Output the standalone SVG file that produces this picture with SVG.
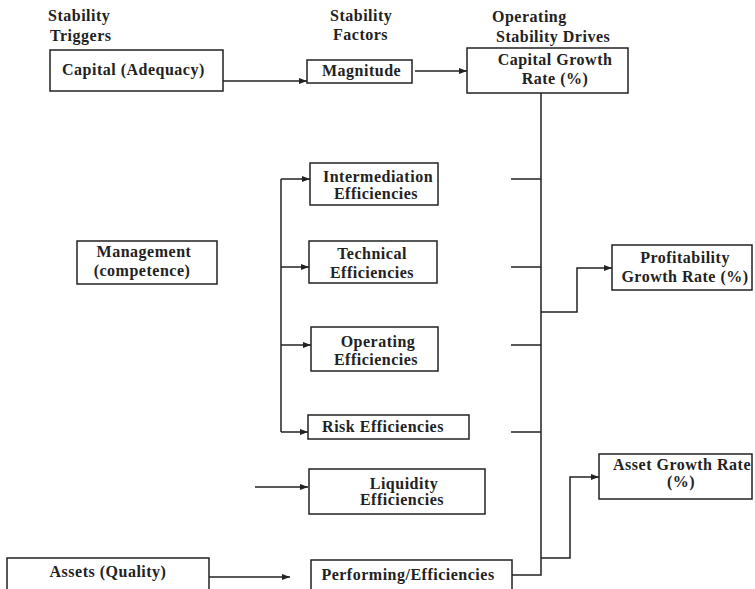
<svg xmlns="http://www.w3.org/2000/svg" width="755" height="589" viewBox="0 0 755 589">
<style>
.box{fill:#fff;stroke:#222;stroke-width:1.5}
.ln{fill:none;stroke:#222;stroke-width:1.5}
.t{font-family:"Liberation Serif","Times New Roman",serif;font-weight:bold;font-size:16px;letter-spacing:0.5px;fill:#222}
.c{text-anchor:middle}
</style>
<defs>
<marker id="ah" markerUnits="userSpaceOnUse" markerWidth="8" markerHeight="6" refX="8" refY="3" orient="auto">
<path d="M0,0 L8,3 L0,6 z" fill="#222"/>
</marker>
</defs>
<rect width="755" height="589" fill="#fff"/>
<g id="headers">
<text class="t" x="48" y="21">Stability</text>
<text class="t" x="50" y="41">Triggers</text>
<text class="t" x="330" y="21">Stability</text>
<text class="t" x="333" y="40">Factors</text>
<text class="t" x="492" y="22">Operating</text>
<text class="t" x="496" y="42">Stability Drives</text>
</g>
<g id="connectors">
<path class="ln" d="M223,81 H307" marker-end="url(#ah)"/>
<path class="ln" d="M415,71 H467" marker-end="url(#ah)"/>
<path class="ln" d="M541,93 V575 H512"/>
<path class="ln" d="M511,179 H541 M511,267 H541 M511,345 H541 M511,432 H541"/>
<path class="ln" d="M541,312 H577 V268 H612" marker-end="url(#ah)"/>
<path class="ln" d="M541,558 H570 V477 H599" marker-end="url(#ah)"/>
<path class="ln" d="M281,179 V432"/>
<path class="ln" d="M281,179 H310" marker-end="url(#ah)"/>
<path class="ln" d="M281,267 H309" marker-end="url(#ah)"/>
<path class="ln" d="M281,345 H311" marker-end="url(#ah)"/>
<path class="ln" d="M281,432 H308" marker-end="url(#ah)"/>
<path class="ln" d="M255,487 H308" marker-end="url(#ah)"/>
<path class="ln" d="M209,577 H290" marker-end="url(#ah)"/>
</g>
<g id="capital">
<rect class="box" x="50" y="50" width="173" height="41"/>
<text class="t" x="62" y="75">Capital (Adequacy)</text>
</g>
<g id="magnitude">
<rect class="box" x="307" y="60" width="105" height="23"/>
<text class="t" x="322" y="76">Magnitude</text>
</g>
<g id="capitalGrowth">
<rect class="box" x="467" y="48" width="161" height="45"/>
<text class="t c" x="555" y="65">Capital Growth</text>
<text class="t c" x="555" y="84">Rate (%)</text>
</g>
<g id="management">
<rect class="box" x="77" y="241" width="140" height="43"/>
<text class="t c" x="144" y="257">Management</text>
<text class="t c" x="142" y="276">(competence)</text>
</g>
<g id="intermediation">
<rect class="box" x="310" y="163" width="128" height="42"/>
<text class="t c" x="378" y="182">Intermediation</text>
<text class="t c" x="376" y="199">Efficiencies</text>
</g>
<g id="technical">
<rect class="box" x="309" y="241" width="128" height="42"/>
<text class="t c" x="372" y="259">Technical</text>
<text class="t c" x="372" y="278">Efficiencies</text>
</g>
<g id="operating">
<rect class="box" x="311" y="327" width="127" height="44"/>
<text class="t c" x="378" y="347">Operating</text>
<text class="t c" x="376" y="365">Efficiencies</text>
</g>
<g id="risk">
<rect class="box" x="308" y="415" width="161" height="24"/>
<text class="t c" x="383" y="432">Risk Efficiencies</text>
</g>
<g id="liquidity">
<rect class="box" x="309" y="469" width="176" height="45"/>
<text class="t c" x="404" y="489">Liquidity</text>
<text class="t c" x="402" y="505">Efficiencies</text>
</g>
<g id="performing">
<rect class="box" x="311" y="560" width="201" height="40"/>
<text class="t c" x="408" y="580">Performing/Efficiencies</text>
</g>
<g id="assets">
<rect class="box" x="7" y="558" width="202" height="42"/>
<text class="t c" x="108" y="577">Assets (Quality)</text>
</g>
<g id="profitability">
<rect class="box" x="612" y="245" width="140" height="45"/>
<text class="t c" x="685" y="263">Profitability</text>
<text class="t c" x="685" y="282">Growth Rate (%)</text>
</g>
<g id="assetGrowth">
<rect class="box" x="599" y="454" width="153" height="45"/>
<text class="t c" x="682" y="470">Asset Growth Rate</text>
<text class="t c" x="681" y="487">(%)</text>
</g>
</svg>
